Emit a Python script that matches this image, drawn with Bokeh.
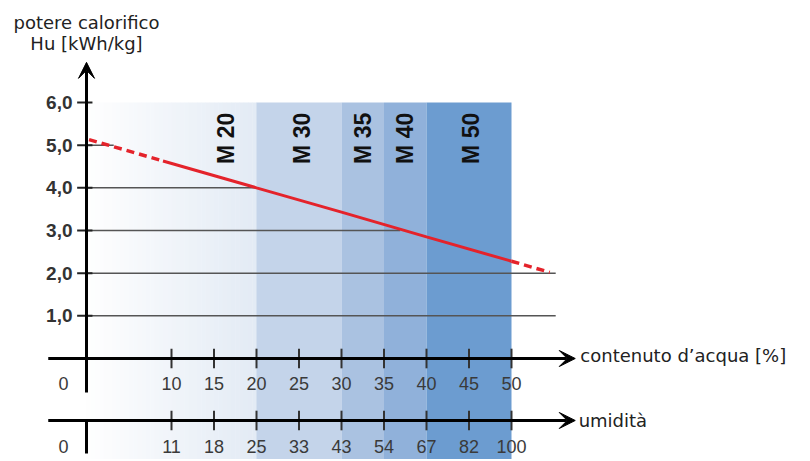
import numpy as np
from bokeh.plotting import figure
from bokeh.models import Range1d, Arrow, VeeHead
from bokeh.core.properties import value
from bokeh.embed import file_html
from bokeh.resources import INLINE

# ---- data ----
water = [10, 15, 20, 25, 30, 35, 40, 45, 50]
water_labels = ["10", "15", "20", "25", "30", "35", "40", "45", "50"]
humidity_labels = ["11", "18", "25", "33", "43", "54", "67", "82", "100"]
y_ticks = [1, 2, 3, 4, 5, 6]
y_tick_labels = ["1,0", "2,0", "3,0", "4,0", "5,0", "6,0"]
grid_y = [1, 2, 3, 4, 5]
grid_end = [55.2, 55.2, 36.9, 20, 3.2]
band_left = [20, 30, 35, 40]
band_right = [30, 35, 40, 50]
band_colors = ["#c4d4ea", "#aac2e1", "#90b1da", "#6c9cd0"]
m_labels = ["M 20", "M 30", "M 35", "M 40", "M 50"]
m_x = [16.4, 25.4, 32.5, 37.5, 45.2]
hu_solid_x = [9, 20, 30, 40, 50]
hu_solid_y = [4.63, 4.0, 3.43, 2.85, 2.28]
hu_dash_left_x = [0.3, 9]
hu_dash_left_y = [5.13, 4.63]
hu_dash_right_x = [50, 54.5]
hu_dash_right_y = [2.28, 2.02]

# ---- layout (data units) ----
W, H = 808, 459
X_LEFT = -86 / 8.5
X_RIGHT = X_LEFT + W / 8.5
Y_TOP = 358 / 42.67
Y_BOT = Y_TOP - H / 42.67
AX2 = -1.453
ROW1 = -0.586
ROW2 = -2.06

p = figure(width=W, height=H, x_range=Range1d(X_LEFT, X_RIGHT),
           y_range=Range1d(Y_BOT, Y_TOP), output_backend="svg",
           toolbar_location=None, min_border=0, x_axis_type=None, y_axis_type=None)
p.grid.visible = False
p.outline_line_color = None
p.background_fill_color = "white"

# gradient band 0-20 (white -> pale blue)
n = 40
c0 = np.array([255, 255, 255])
c1 = np.array([0xe3, 0xeb, 0xf5])
edges = np.linspace(0, 20, n + 1)
cols = []
for i in range(n):
    t = (i + 0.5) / n
    c = (c0 + (c1 - c0) * t).astype(int)
    cols.append("#%02x%02x%02x" % tuple(c))
p.quad(left=edges[:-1], right=edges[1:] + 0.05, top=6, bottom=Y_BOT - 1, fill_color=cols, line_color=None)
p.quad(left=band_left, right=band_right, top=6, bottom=Y_BOT - 1, fill_color=band_colors, line_color=None)

# grid lines
p.segment(x0=[0] * len(grid_y), y0=grid_y, x1=grid_end, y1=grid_y, line_color="#555555", line_width=1.5)

# y ticks
p.segment(x0=[-1.1] * len(y_ticks), y0=y_ticks, x1=[0.7] * len(y_ticks), y1=y_ticks, line_color="#222222", line_width=2)
p.text(x=[-1.65] * len(y_ticks), y=y_ticks, text=y_tick_labels, text_align="right", text_baseline="middle",
       text_font=value("Liberation Sans"), text_font_style="bold", text_font_size="19px", text_color="#333333")

# red line
p.line(hu_solid_x, hu_solid_y, line_color="#e4232b", line_width=3)
p.line(hu_dash_left_x, hu_dash_left_y, line_color="#e4232b", line_width=3.5, line_dash="8 5")
p.line(hu_dash_right_x, hu_dash_right_y, line_color="#e4232b", line_width=3.5, line_dash="8 5")

# M labels
p.text(x=m_x, y=[5.16] * len(m_x), text=m_labels, angle=np.pi / 2, text_align="center", text_baseline="middle",
       text_font=value("Liberation Sans"), text_font_style="bold", text_font_size="23px", text_color="#111111")

# axes
head = dict(size=16, fill_color="black", line_color="black")
p.add_layout(Arrow(end=VeeHead(**head), x_start=0, y_start=-0.797, x_end=0, y_end=6.94, line_width=3, line_color="black"))
p.add_layout(Arrow(end=VeeHead(**head), x_start=-4.5, y_start=0, x_end=57.5, y_end=0, line_width=3, line_color="black"))
p.add_layout(Arrow(end=VeeHead(**head), x_start=-4.5, y_start=AX2, x_end=57.5, y_end=AX2, line_width=3, line_color="black"))
p.segment(x0=[0], y0=[AX2], x1=[0], y1=[-2.226], line_color="black", line_width=3)

# x ticks
p.segment(x0=water, y0=[0.23] * len(water), x1=water, y1=[-0.23] * len(water), line_color="#333333", line_width=2)
p.segment(x0=water, y0=[AX2 + 0.23] * len(water), x1=water, y1=[AX2 - 0.23] * len(water), line_color="#333333", line_width=2)

p.text(x=water, y=[ROW1] * len(water), text=water_labels, text_align="center", text_baseline="middle",
       text_font=value("Liberation Sans"), text_font_size="18px", text_color="#3a3a3a")
p.text(x=water, y=[ROW2] * len(water), text=humidity_labels, text_align="center", text_baseline="middle",
       text_font=value("Liberation Sans"), text_font_size="18px", text_color="#3a3a3a")
p.text(x=[-2.7, -2.7], y=[ROW1, ROW2], text=["0", "0"], text_align="center", text_baseline="middle",
       text_font=value("Liberation Sans"), text_font_size="18px", text_color="#3a3a3a")

# titles
p.text(x=[0, 0], y=[7.87, 7.38], text=["potere calorifico", "Hu [kWh/kg]"], text_align="center",
       text_baseline="middle", text_font=value("DejaVu Sans"), text_font_size="18px", text_color="#222222")
p.text(x=[58.1, 57.9], y=[0.07, AX2], text=["contenuto d\u2019acqua [%]", "umidit\u00e0"], text_align="left",
       text_baseline="middle", text_font=value("DejaVu Sans"), text_font_size="18px", text_color="#222222")

open("out.html", "w").write(file_html(p, INLINE))
